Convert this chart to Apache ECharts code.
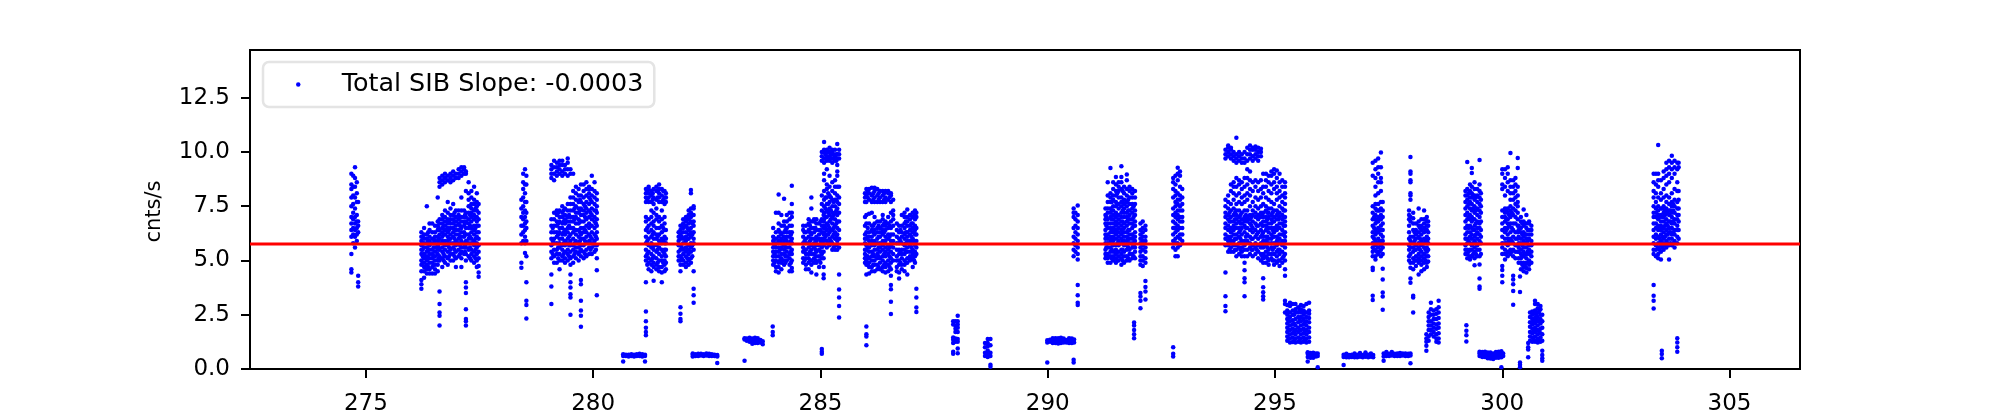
<!DOCTYPE html>
<html><head><meta charset="utf-8">
<style>html,body{margin:0;padding:0;background:#fff}#c{width:2000px;height:416px}</style>
<script src="https://cdn.jsdelivr.net/npm/echarts@6/dist/echarts.min.js"></script>
</head><body><div id="c"></div>
<script>
// Each column is [time, rate, rate, ...].
const groupA=[[274.68,9.0,8.5,8.3,7.9,7.5,7.0,6.7,6.4,6.1,5.3,4.6,4.45],[274.72,8.9,8.4,8.0,7.6,7.2,6.9,6.5,6.2,5.8],[274.76,9.3,8.8,8.4,7.9,7.4,7.0,6.7,6.4,6.1,5.6],[274.80,8.6,8.1,7.7,7.1,6.8,6.5,6.2,5.9],[274.83,7.7,6.8,6.6,6.3,4.3,4.0,3.8]];
const groupB=[[276.22,3.7,3.9,4.1,4.5,4.8,5.0,5.3,5.5,5.7,5.9,6.1,6.3],[276.28,4.2,4.5,4.7,4.9,5.1,5.3,5.6,5.8,6.0,6.2,6.5],[276.34,4.4,4.6,4.8,5.0,5.2,5.4,5.6,5.8,6.0,6.2,7.5],[276.40,4.4,4.6,4.9,5.1,5.3,5.5,5.7,5.9,6.1,6.4,6.7],[276.46,4.4,4.7,4.9,5.1,5.3,5.5,5.8,6.0,6.3,6.7],[276.52,4.4,4.6,4.8,5.0,5.2,5.4,5.6,5.9,6.1,6.3,6.6],[276.58,4.5,4.8,5.0,5.3,5.5,5.7,5.9,6.1,6.4,6.6,6.8,7.9],[276.62,2.0,2.45,2.6,3.0,3.57,5.0,5.2,5.5,5.8,6.0,6.2,6.4,6.7,6.9,8.4,8.6,8.8],[276.68,4.7,5.1,5.4,5.6,5.9,6.1,6.3,6.5,6.7,6.9,7.1,8.5,8.7,8.9],[276.74,4.9,5.2,5.5,5.7,5.9,6.2,6.4,6.6,6.8,7.0,7.3,8.6,8.8,9.0],[276.80,4.8,5.1,5.4,5.7,5.9,6.1,6.3,6.5,6.7,6.9,7.2,7.7,8.7,8.9],[276.86,5.0,5.3,5.5,5.8,6.0,6.2,6.5,6.7,6.9,7.1,7.4,8.6,8.8,9.0],[276.92,5.0,5.3,5.6,5.8,6.1,6.3,6.5,6.7,6.9,7.1,7.6,8.7,8.9,9.1],[276.98,4.7,5.1,5.4,5.7,5.9,6.2,6.4,6.6,6.8,7.0,7.3,8.8,9.0],[277.04,5.2,5.5,5.8,6.0,6.2,6.4,6.7,6.9,7.1,7.3,8.8,9.0,9.2],[277.10,4.7,5.1,5.4,5.6,5.9,6.1,6.3,6.5,6.8,7.0,7.3,7.9,8.9,9.1,9.3],[277.16,5.3,5.6,5.8,6.1,6.3,6.6,6.8,7.0,7.3,9.0,9.2,9.3],[277.20,2.0,2.2,2.3,2.75,3.5,3.75,4.0,5.0,5.3,5.6,5.9,6.2,6.5,6.8,7.0,7.2,8.2,9.0,9.1],[277.26,5.2,5.5,5.8,6.0,6.2,6.5,6.7,6.9,7.2,7.5,7.8,8.1,8.6],[277.32,5.0,5.3,5.5,5.8,6.0,6.3,6.5,6.8,7.0,7.2,7.4,7.6,7.9,8.2],[277.38,4.9,5.2,5.4,5.7,5.9,6.2,6.4,6.6,6.9,7.1,7.3,7.6,7.8,8.4],[277.44,4.7,5.0,5.3,5.6,5.8,6.1,6.3,6.6,6.8,7.0,7.3,7.5,7.7,8.1],[277.48,4.25,4.45,4.75,5.1,5.4,5.7,6.0,6.3,6.6,6.9,7.2,7.6]];
const groupC=[[278.42,4.67,4.9,5.8,6.2,6.6,7.0,7.4,7.8],[278.46,5.9,6.3,6.6,6.9,7.2,7.5,7.9,8.3,8.6,9.0],[278.50,5.35,5.8,6.1,6.4,6.7,7.0,7.3,7.7,8.1,8.5,9.2],[278.53,2.33,2.95,3.15,4.0,5.2,5.9,6.5,6.8,7.2,7.7,8.5,8.9]];
const groupD=[[279.08,3.0,3.8,4.35,5.1,5.4,5.7,6.0,6.3,6.6,6.9,8.8,9.0,9.2,9.4],[279.14,4.9,5.2,5.5,5.8,6.0,6.3,6.6,6.9,7.2,8.7,9.0,9.3,9.6],[279.20,4.9,5.3,5.5,5.8,6.1,6.3,6.6,6.8,7.1,7.3,8.9,9.1,9.3,9.5],[279.26,4.6,5.0,5.3,5.6,5.8,6.0,6.3,6.5,6.8,7.0,7.3,9.0,9.2,9.4,9.6],[279.32,5.0,5.2,5.5,5.7,6.0,6.2,6.5,6.7,7.0,7.2,7.5,8.9,9.1,9.4,9.6],[279.38,4.9,5.1,5.4,5.7,5.9,6.2,6.4,6.7,6.9,7.1,7.4,9.0,9.2,9.4],[279.44,5.0,5.3,5.5,5.8,6.0,6.3,6.5,6.8,7.0,7.3,7.6,8.9,9.2,9.5,9.7],[279.50,2.5,3.3,3.45,3.75,4.0,4.35,4.8,5.1,5.4,5.7,5.9,6.2,6.5,6.8,7.0,7.3,7.6,7.9,9.0,9.2],[279.56,4.9,5.2,5.5,5.7,6.0,6.3,6.5,6.8,7.0,7.3,7.6,7.9,8.2,9.0],[279.62,5.1,5.4,5.6,5.9,6.2,6.4,6.7,7.0,7.2,7.5,7.8,8.1,8.4],[279.68,5.0,5.3,5.6,5.8,6.1,6.4,6.7,6.9,7.2,7.4,7.7,8.0,8.3],[279.73,1.95,2.45,2.7,3.15,3.9,4.1,5.2,5.5,5.7,6.0,6.2,6.5,6.8,7.1,7.4,7.7,8.0,8.5],[279.79,5.1,5.4,5.7,6.0,6.3,6.5,6.8,7.1,7.3,7.6,7.9,8.2,8.5],[279.85,5.2,5.5,5.8,6.1,6.3,6.6,6.9,7.2,7.4,7.7,8.0,8.3,8.6],[279.91,5.3,5.6,5.9,6.2,6.5,6.7,7.0,7.3,7.6,7.9,8.1,8.4,8.3],[279.97,5.3,5.6,5.8,6.0,6.3,6.6,6.9,7.1,7.4,7.7,8.0,8.3,8.9],[280.03,5.4,5.7,5.9,6.2,6.5,6.8,7.0,7.3,7.6,7.9,8.2,8.6],[280.08,3.4,4.55,5.1,5.7,6.0,6.3,6.6,6.9,7.2,7.5,7.8,8.1]];
const groupE=[[280.66,0.35,0.6,0.68],[280.72,0.6,0.66],[280.78,0.58,0.66],[280.84,0.6,0.68],[280.90,0.58,0.66],[280.96,0.6,0.68],[281.02,0.6,0.7],[281.08,0.58,0.68],[281.14,0.35,0.6,0.66]];
const groupF=[[281.16,1.55,1.7,1.9,2.2,2.65,4.0,5.0,5.2,5.5,5.8,6.1,6.4,6.8,7.0,7.7,7.9,8.1,8.3],[281.22,4.6,4.9,5.1,5.4,5.7,6.0,6.3,6.6,6.9,7.7,7.9,8.1,8.3,8.4],[281.28,4.5,4.8,5.0,5.3,5.6,5.8,6.1,6.4,6.7,7.0,7.3,7.7,8.0,8.2],[281.33,4.07,4.7,4.9,5.2,5.5,5.7,6.0,6.3,6.6,6.8,7.2,7.6,7.9,8.3],[281.39,4.6,4.8,5.1,5.4,5.7,6.0,6.2,6.5,6.9,7.1,7.4,7.8,8.2,8.4],[281.45,4.5,4.7,5.0,5.3,5.6,5.9,6.2,6.5,6.8,7.0,7.7,7.9,8.1,8.3,8.5],[281.51,4.0,4.45,4.7,5.0,5.2,5.5,5.8,6.0,6.3,6.6,6.9,7.3,7.7,8.0,8.3],[281.57,4.5,4.8,5.0,5.3,5.5,5.8,6.1,6.4,6.7,7.0,7.6,7.9,8.2],[281.60,4.6,4.9,5.2,5.5,5.8,6.0,6.4,7.7,7.9,8.1]];
const groupG=[[281.88,5.0,5.2,5.4,5.7,5.9,6.1,6.3],[281.92,2.2,2.3,2.55,2.85,4.5,4.8,5.0,5.2,5.5,5.7,6.0,6.2,6.4,6.6],[281.98,4.8,5.0,5.3,5.5,5.8,6.0,6.3,6.5,6.7,6.9],[282.04,4.7,4.9,5.2,5.4,5.6,5.9,6.1,6.3,6.6,6.8,7.0],[282.10,4.8,5.0,5.3,5.5,5.7,6.0,6.2,6.4,6.7,6.9,7.1,7.3],[282.15,4.9,5.1,5.4,5.6,5.8,6.1,6.3,6.5,6.8,7.0,7.2,7.4,8.1,8.25],[282.21,3.05,3.4,3.7,4.5,5.5,5.8,6.0,6.3,6.6,6.8,7.1,7.4,7.5]];
const groupH=[[282.19,0.58,0.66,0.72],[282.25,0.6,0.68],[282.31,0.6,0.7],[282.37,0.62,0.7],[282.43,0.6,0.68],[282.49,0.62,0.72],[282.55,0.6,0.7],[282.61,0.6,0.68],[282.67,0.6,0.66],[282.73,0.28,0.58,0.64]];
const groupI=[[283.33,0.38,1.36,1.42],[283.38,1.3,1.4],[283.44,1.26,1.36,1.44],[283.50,1.16,1.3,1.4],[283.56,1.2,1.36,1.44],[283.62,1.2,1.32,1.42],[283.68,1.22,1.34],[283.73,1.14,1.28]];
const groupJ=[[283.95,1.55,1.7,1.96]];
const groupK=[[283.96,4.8,5.0,5.2,5.4,5.6,5.9,6.1,6.5],[284.02,4.5,4.7,5.0,5.2,5.4,5.6,5.8,6.0,6.3,7.2],[284.08,4.45,4.7,4.9,5.2,5.4,5.6,5.9,6.1,6.4,6.7,7.2,8.04],[284.14,4.6,4.9,5.1,5.3,5.6,5.8,6.0,6.2,6.6,7.1],[284.20,4.8,5.0,5.3,5.5,5.7,5.9,6.1,6.3,6.6,6.8,7.84],[284.26,5.0,5.2,5.4,5.6,5.9,6.1,6.3,6.5,6.8,7.1],[284.32,4.5,4.8,5.1,5.3,5.6,5.8,6.1,6.3,6.6,6.9,7.2],[284.37,4.5,4.65,5.0,5.3,5.5,5.8,6.0,6.3,6.6,7.0,7.2,7.6,8.45]];
const groupL=[[284.62,4.9,5.1,5.4,5.6,5.8,6.1,6.4,6.6],[284.68,4.6,4.8,5.1,5.3,5.5,5.8,6.0,6.3,6.6],[284.74,4.6,4.9,5.1,5.3,5.6,5.8,6.1,6.4,6.7,6.9],[284.80,4.45,4.8,5.0,5.3,5.5,5.7,6.0,6.2,6.5,6.8,7.4,7.9],[284.86,4.9,5.1,5.3,5.6,5.8,6.0,6.3,6.5,6.8,6.9],[284.91,4.36,4.9,5.2,5.4,5.7,5.9,6.1,6.4,6.7,6.9],[284.97,4.7,5.0,5.2,5.5,5.7,6.0,6.2,6.4,6.7],[285.03,0.7,0.8,0.92,5.1,5.3,5.6,5.8,6.0,6.3,6.6,6.9],[285.07,4.18,4.36,4.7,5.1,5.4,5.7,5.9,6.2,6.5,6.8,7.1]];
const groupM=[[285.03,7.3,7.6,8.0,9.6,9.8,10.0],[285.08,6.0,6.3,6.6,6.9,7.2,7.5,7.8,8.2,8.7,9.0,9.5,9.7,10.0,10.1,10.46],[285.14,5.6,5.9,6.2,6.4,6.7,7.0,7.3,7.6,7.9,8.3,8.5,9.2,9.6,9.8,10.0,10.1],[285.20,5.7,6.0,6.3,6.5,6.8,7.1,7.4,7.7,8.0,8.4,8.9,9.6,9.8,10.0,10.2],[285.26,5.5,5.8,6.1,6.4,6.7,7.0,7.2,7.5,7.8,8.2,8.6,9.5,9.7,10.0,10.1],[285.32,5.5,5.7,6.0,6.3,6.6,6.9,7.2,7.5,7.8,8.1,8.4,8.7,9.6,9.8,10.1],[285.37,5.5,5.9,6.2,6.5,6.8,7.1,7.4,7.7,8.0,8.4,8.9,9.1,9.4,9.7,9.9,10.37],[285.41,2.37,2.9,3.3,3.66,4.35,5.6,6.0,6.4,6.8,7.2,7.6,7.9,8.4,9.7,9.9,10.1]];
const groupN=[[285.98,4.9,5.1,5.3,5.5,5.8,6.0,6.2,6.6,7.0,7.7,7.9,8.1],[286.01,1.1,1.5,1.6,1.96,4.36,4.8,5.0,5.2,5.5,5.7,6.0,6.3,6.7,7.1,7.7,8.0,8.3],[286.07,4.4,4.7,4.9,5.1,5.4,5.6,5.9,6.1,6.3,6.7,7.15,7.8,8.1,8.3],[286.13,4.5,4.7,5.0,5.2,5.4,5.7,5.9,6.1,6.4,6.6,7.2,7.7,8.0,8.35],[286.19,4.5,4.8,5.0,5.2,5.5,5.7,5.9,6.2,6.4,6.7,7.0,7.7,7.9,8.2,8.35],[286.25,4.6,4.8,5.1,5.3,5.5,5.8,6.0,6.3,6.5,6.8,7.7,8.0,8.3],[286.31,4.6,4.9,5.1,5.4,5.6,5.8,6.1,6.3,6.5,6.8,7.7,7.9,8.2],[286.37,4.5,4.7,5.0,5.2,5.5,5.7,5.9,6.2,6.4,6.6,6.9,7.1,7.7,8.0,8.2],[286.43,4.45,4.7,4.9,5.2,5.4,5.6,5.9,6.1,6.4,6.6,6.8,7.7,7.9,8.2],[286.49,4.5,4.8,5.0,5.3,5.5,5.7,6.0,6.2,6.5,6.7,7.0,7.8,8.1,8.2],[286.55,2.54,3.1,3.67,3.87,4.3,4.6,4.9,5.1,5.4,5.7,5.9,6.2,6.5,6.8,7.2,7.7,8.0,8.1],[286.60,5.0,5.3,5.6,5.9,6.2,6.6,6.9,7.1,7.3,7.8]];
const groupO=[[286.68,4.5,4.7,5.0,5.2,5.5,5.8,6.1,6.4,6.7],[286.73,4.17,4.45,4.8,5.0,5.3,5.5,5.8,6.0,6.3,6.6],[286.79,4.6,4.8,5.1,5.3,5.5,5.8,6.1,6.3,6.6,7.1],[286.85,4.5,4.8,5.0,5.3,5.5,5.7,6.0,6.2,6.5,6.7,7.0,7.2],[286.91,4.36,4.9,5.1,5.4,5.6,5.9,6.1,6.3,6.6,6.8,7.0,7.35],[286.97,5.0,5.2,5.4,5.7,5.9,6.2,6.4,6.6,6.9,7.1],[287.03,4.7,5.1,5.3,5.5,5.8,6.0,6.3,6.5,6.7,7.0,7.2],[287.08,4.9,5.2,5.4,5.7,5.9,6.2,6.4,6.6,6.9,7.1,7.3],[287.11,2.63,2.83,3.3,3.7,5.3,5.6,5.9,6.2,6.5,7.0,7.2]];
const groupP=[[287.92,0.7,0.8,1.2,1.35,1.45,2.05,2.2],[287.97,1.25,1.4,1.7,1.85,2.0,2.2],[288.02,0.73,0.95,1.25,1.38,1.7,1.9,2.05,2.2,2.45]];
const groupQ=[[288.62,0.6,0.75,1.0,1.2],[288.68,0.55,0.72,0.85,1.05,1.2,1.38],[288.74,0.1,0.2,0.6,0.75,1.1,1.38]];
const groupR=[[289.99,0.3,1.22,1.32],[290.05,1.25,1.35],[290.11,1.2,1.34,1.42],[290.17,1.2,1.32,1.42],[290.23,1.18,1.3,1.42],[290.29,1.2,1.34,1.44],[290.35,1.22,1.36,1.4],[290.41,1.22,1.34],[290.47,1.2,1.34,1.42],[290.53,1.2,1.32,1.4],[290.58,1.22,1.36]];
const groupS=[[290.57,0.3,0.43,5.2,5.5,5.8,6.1,6.5,7.0,7.2,7.4],[290.61,5.4,5.7,6.0,6.3,6.6,6.9,7.2],[290.66,2.95,3.05,3.4,3.87,5.05,5.3,5.6,5.9,6.2,6.5,6.8,7.1,7.53]];
const groupT=[[291.27,5.1,5.3,5.5,5.8,6.0,6.2,6.4,6.7,6.9,7.1,7.4],[291.32,4.9,5.1,5.3,5.6,5.8,6.0,6.2,6.5,6.7,6.9,7.2,7.4,7.7,8.0,8.6],[291.38,4.9,5.2,5.4,5.6,5.9,6.1,6.3,6.5,6.7,7.0,7.2,7.4,7.7,7.9,8.1,9.26],[291.44,5.0,5.2,5.4,5.7,5.9,6.1,6.3,6.5,6.7,6.9,7.1,7.3,7.5,7.8,8.0,8.3,8.6],[291.50,4.9,5.1,5.3,5.5,5.7,6.0,6.2,6.4,6.6,6.8,7.0,7.2,7.5,7.7,8.0,8.2,8.5,8.85],[291.56,5.0,5.2,5.4,5.7,5.9,6.1,6.3,6.5,6.7,6.9,7.1,7.4,7.6,7.9,8.2,8.4,8.6],[291.62,4.8,5.1,5.3,5.5,5.8,6.0,6.2,6.4,6.6,6.8,7.0,7.2,7.5,7.7,7.9,8.3,8.6,8.85,9.34],[291.68,4.9,5.2,5.4,5.7,5.9,6.1,6.3,6.5,6.7,7.0,7.2,7.4,7.6,7.8,8.1,8.4],[291.74,5.0,5.2,5.5,5.7,5.9,6.1,6.3,6.6,6.8,7.0,7.2,7.5,7.7,8.0,8.3,8.7,8.96],[291.80,5.0,5.3,5.5,5.8,6.0,6.2,6.4,6.7,6.9,7.1,7.3,7.6,7.9,8.2,8.4],[291.86,5.1,5.3,5.6,5.8,6.0,6.2,6.5,6.7,6.9,7.2,7.4,7.6,7.9,8.1,8.3],[291.92,5.1,5.4,5.6,5.9,6.1,6.3,6.6,6.8,7.1,7.3,7.6,7.9,8.2],[291.90,1.42,1.6,1.8,2.0,2.14]];
const groupU=[[292.04,2.8,3.14,3.34,3.5,4.8,5.0,5.2,5.4,5.6,5.8,6.0,6.2,6.4,6.7],[292.09,4.75,5.0,5.2,5.5,5.7,5.9,6.1,6.3,6.5,6.8],[292.15,3.2,3.57,3.78,4.06,4.9,5.1,5.4,5.6,5.9,6.1,6.4,6.6]];
const groupV=[[292.76,0.58,0.7,1.0,5.6,5.9,6.2,6.5,6.8,7.1,7.4,7.9,8.3,8.6,8.8],[292.81,5.2,5.5,5.8,6.0,6.3,6.5,6.7,7.0,7.2,7.5,7.7,8.0,8.2,8.5,8.9],[292.86,5.2,5.6,5.8,6.1,6.4,6.6,6.9,7.1,7.3,7.6,7.8,8.1,8.7,9.0,9.27],[292.91,5.7,6.0,6.2,6.5,6.8,7.0,7.3,7.5,7.8,8.0,8.4,8.9,9.1],[292.96,5.9,6.2,6.5,6.8,7.0,7.3,7.6,7.9,8.3]];
const groupW=[[293.91,2.66,2.9,3.35,4.45,5.7,6.0,6.2,6.5,6.7,7.0,7.2,7.5,7.8,9.7,9.9,10.1],[293.97,5.4,5.7,5.9,6.1,6.4,6.6,6.9,7.1,7.4,7.7,8.0,9.8,10.0,10.2,10.3],[294.03,5.4,5.6,5.9,6.1,6.3,6.5,6.8,7.0,7.3,7.6,8.2,8.5,9.7,9.9,10.1,10.2],[294.09,5.4,5.7,5.9,6.2,6.4,6.6,6.8,7.1,7.4,7.8,8.1,8.4,8.6,9.6,9.8,10.0],[294.15,5.2,5.5,5.7,6.0,6.2,6.5,6.7,6.9,7.1,7.3,7.6,8.0,8.4,8.8,9.5,9.7,9.9,10.66],[294.21,5.3,5.6,5.8,6.1,6.3,6.5,6.8,7.0,7.3,7.7,8.1,8.5,8.7,9.6,9.8,10.0],[294.27,5.2,5.4,5.6,5.9,6.2,6.5,6.7,6.9,7.2,7.6,7.9,8.3,8.6,9.5,9.7,9.9],[294.33,3.35,4.0,4.18,4.55,4.9,5.2,5.5,5.7,5.9,6.3,6.6,6.8,7.0,7.3,7.7,8.0,8.4,8.8,9.5,9.7,10.0],[294.39,5.2,5.5,5.9,6.2,6.5,6.8,7.0,7.3,7.8,8.1,8.5,8.8,9.2,9.6,9.9,10.2],[294.45,5.3,5.6,5.8,6.1,6.4,6.7,6.9,7.1,7.5,8.0,8.3,8.7,9.1,9.7,9.9,10.1,10.3],[294.51,5.2,5.5,5.7,6.0,6.3,6.5,6.8,7.1,7.3,7.7,8.2,8.6,9.6,9.8,10.1,10.2],[294.57,5.3,5.6,5.8,6.1,6.4,6.7,7.0,7.2,7.5,7.9,8.4,8.7,9.7,9.9,10.1,10.25],[294.63,5.1,5.4,5.7,6.0,6.3,6.6,6.9,7.1,7.4,7.8,8.2,8.6,9.6,9.8,10.0,10.2],[294.69,5.0,5.3,5.6,5.8,6.1,6.4,6.7,7.0,7.2,7.5,7.9,8.3,8.7,9.8,10.0,10.15],[294.74,3.2,3.35,3.54,3.77,4.18,4.9,5.1,5.3,5.6,5.9,6.1,6.3,6.6,6.8,7.0,7.2,7.6,8.1,8.4,9.0],[294.80,4.9,5.2,5.4,5.7,5.9,6.1,6.4,6.6,6.8,7.0,7.3,7.5,7.9,8.4,8.7,9.0],[294.86,4.8,5.0,5.3,5.5,5.8,6.0,6.3,6.5,6.7,7.0,7.2,7.4,7.8,8.2,8.6,8.9],[294.92,5.1,5.3,5.6,5.8,6.0,6.2,6.5,6.7,6.9,7.1,7.4,7.7,8.1,8.5,8.9,9.1],[294.98,4.8,5.0,5.3,5.6,5.8,6.1,6.3,6.5,6.8,7.0,7.3,7.6,8.3,8.6,9.0,9.2],[295.04,4.9,5.2,5.4,5.7,5.9,6.1,6.4,6.6,6.9,7.1,7.3,7.8,8.1,8.4,8.8,9.15],[295.10,4.75,5.0,5.3,5.5,5.8,6.0,6.2,6.5,6.7,7.0,7.2,7.5,7.9,8.2,8.6,9.0],[295.16,4.9,5.1,5.4,5.7,5.9,6.2,6.4,6.7,6.9,7.1,7.4,7.7,8.0,8.4,8.7],[295.22,4.3,4.6,5.0,5.3,5.6,5.9,6.1,6.3,6.6,6.8,7.0,7.3,7.6,7.9,8.1,8.4,8.6]];
const groupX=[[295.22,3.14,3.0,2.6],[295.27,1.3,1.5,1.7,1.9,2.1,2.3,2.5,2.7,2.95],[295.33,1.22,1.4,1.6,1.8,2.0,2.2,2.4,2.6,2.9,3.05],[295.39,1.24,1.45,1.65,1.85,2.05,2.25,2.5,2.7,3.0],[295.45,1.22,1.4,1.6,1.8,2.0,2.3,2.6,2.75,3.0],[295.51,1.25,1.45,1.7,1.9,2.15,2.4,2.6,2.85],[295.57,1.22,1.4,1.6,1.8,2.0,2.2,2.4,2.6,2.75,2.95],[295.63,1.25,1.45,1.65,1.85,2.05,2.3,2.5,2.7,2.9],[295.69,1.22,1.4,1.6,1.8,2.0,2.2,2.4,2.6,3.0],[295.75,1.25,1.45,1.7,1.9,2.15,2.35,2.55,2.7,3.05]];
const groupY=[[295.72,0.34,0.55,0.7,0.77],[295.78,0.52,0.62,0.74],[295.84,0.52,0.62,0.75],[295.9,0.58,0.72],[295.94,0.08,0.6,0.72]];
const groupZ=[[296.51,0.18,0.55,0.66],[296.57,0.54,0.64,0.7],[296.63,0.54,0.64],[296.69,0.55,0.66],[296.75,0.54,0.64,0.72],[296.81,0.54,0.66],[296.87,0.56,0.66,0.74],[296.93,0.54,0.64],[296.99,0.56,0.68,0.76],[297.05,0.54,0.66],[297.11,0.56,0.66,0.72],[297.16,0.54,0.64]];
const groupAA=[[297.15,3.18,3.37,4.56,4.67,5.2,5.4,5.6,5.8,6.1,6.3,6.6,6.9,7.2,7.5,8.9,9.5],[297.21,5.05,5.2,5.5,5.7,5.9,6.2,6.4,6.7,6.9,7.1,7.4,7.6,8.0,8.4,8.8,9.2,9.6],[297.27,5.3,5.6,5.8,6.0,6.3,6.5,6.8,7.0,7.3,7.6,8.1,8.6,9.0,9.3,9.7],[297.33,5.2,5.5,5.7,5.9,6.2,6.4,6.6,6.9,7.1,7.4,7.7,8.2,8.6,8.8,9.3,9.98],[297.37,2.73,3.34,3.52,4.13,4.62,5.3,5.6,5.9,6.1,6.4,6.7,7.0,7.3,7.7]];
const groupAB=[[297.39,0.38,0.58,0.72],[297.45,0.6,0.72,0.78],[297.51,0.6,0.7],[297.57,0.62,0.72,0.78],[297.63,0.6,0.7],[297.69,0.6,0.72],[297.75,0.6,0.74],[297.81,0.62,0.72],[297.87,0.6,0.72],[297.93,0.6,0.7],[297.98,0.26,0.62,0.72]];
const groupAC=[[297.95,5.0,5.2,5.5,5.7,6.0,6.3,6.6,6.9,7.1,7.3],[297.98,3.98,4.17,4.67,4.9,5.3,5.6,5.9,6.1,6.8,7.0,7.8,8.0,8.1,8.6,8.7,9.0,9.1,9.77],[298.04,2.6,3.3,3.37,4.6,4.9,5.1,5.4,5.6,5.8,6.1,6.4,6.7,6.95,7.2],[298.10,4.75,5.0,5.2,5.5,5.7,6.0,6.2,6.4,6.7],[298.16,4.36,4.9,5.1,5.3,5.6,5.8,6.1,6.3,6.6,6.8,7.4],[298.22,4.5,4.8,5.0,5.2,5.4,5.7,5.9,6.2,6.4,6.6,6.9],[298.28,4.6,4.9,5.1,5.3,5.6,5.8,6.0,6.3,6.5,6.7,6.9,7.3],[298.34,4.7,4.9,5.2,5.4,5.6,5.9,6.1,6.4,6.6,6.8,7.0],[298.37,4.95,5.2,5.5,5.8,6.0,6.3,6.6,6.8]];
const groupAD=[[298.33,0.84,1.07,1.25,1.4,1.6],[298.38,1.3,1.5,1.8,2.0,2.2,2.4,2.6],[298.43,1.6,1.8,2.0,2.2,2.5,2.75,3.05],[298.49,1.5,1.7,1.9,2.1,2.3,2.5,2.7],[298.55,1.25,1.4,1.6,1.85,2.05,2.3,2.55,2.75],[298.6,1.22,1.4,1.65,1.9,2.1,2.35,2.6,2.85,3.14]];
const groupAE=[[299.19,5.3,5.5,5.7,6.0,6.2,6.5,6.8,7.1,7.4,7.7,8.0,8.2],[299.23,5.1,5.3,5.5,5.8,6.0,6.3,6.6,6.9,7.2,7.5,7.8,8.0,8.3,9.54],[299.21,1.27,1.56,1.76,2.02],[299.29,5.05,5.2,5.5,5.8,6.1,6.3,6.6,6.9,7.1,7.4,7.7,7.9,8.2,8.5],[299.33,5.2,5.5,5.7,6.0,6.2,6.5,6.8,7.0,7.3,7.6,7.9,8.1,8.4,9.03,9.26],[299.39,4.78,5.1,5.4,5.6,5.9,6.1,6.4,6.6,6.9,7.2,7.5,7.8,8.0,8.3,8.6],[299.45,5.2,5.5,5.7,6.0,6.3,6.5,6.8,7.1,7.4,7.7,8.0,8.3],[299.50,3.7,3.8,4.17,4.82,5.2,5.5,5.9,6.2,6.5,6.7,7.0,7.3,7.6,7.9,8.2,8.5,9.63],[299.53,5.3,5.8,6.1,6.4,6.8,7.2,7.5,7.8,8.1]];
const groupAF=[[299.5,0.6,0.72,0.8],[299.56,0.55,0.68,0.78],[299.62,0.55,0.66,0.8],[299.68,0.5,0.62,0.76],[299.74,0.48,0.62,0.76],[299.8,0.46,0.6,0.72],[299.86,0.52,0.64,0.78],[299.92,0.52,0.66,0.8],[299.98,0.08,0.54,0.68,0.82],[300.02,0.6,0.72]];
const groupAG=[[300.0,4.0,4.3,4.56,4.75,5.3,5.6,5.8,6.1,6.4,6.7,7.0,7.3,8.3,8.5,9.0,9.2],[300.06,5.05,5.3,5.5,5.8,6.0,6.3,6.5,6.8,7.0,7.2,7.4,8.0,8.4,8.8,9.2],[300.12,5.2,5.4,5.7,6.0,6.2,6.5,6.7,6.9,7.2,7.4,8.2,8.6,9.0,9.3],[300.18,5.3,5.5,5.8,6.0,6.3,6.7,7.0,7.3,7.5,7.8,8.1,8.4,8.7,9.95],[300.24,2.96,3.6,3.9,4.13,4.3,5.2,5.5,5.8,6.1,6.4,6.7,7.1,7.4,7.8,8.1,8.4,8.7],[300.29,5.1,5.4,5.7,6.0,6.3,6.7,7.0,7.3,7.6,7.9,8.2,8.5,8.8],[300.34,5.4,5.7,6.0,6.3,6.6,6.9,7.2,7.5,7.7,8.0,8.4,9.26,9.72],[300.39,0.08,0.2,0.3,3.55,4.26]];
const groupAH=[[300.36,4.9,5.1,5.4,5.6,5.8,6.1,6.4,6.6],[300.41,4.6,4.9,5.1,5.3,5.5,5.8,6.0,6.3,6.5,6.8,7.0],[300.47,4.5,4.7,4.9,5.2,5.4,5.6,5.9,6.1,6.3,6.6,6.8,7.35],[300.53,4.45,4.65,4.9,5.1,5.3,5.6,5.8,6.0,6.2,6.5,6.7,7.1],[300.59,4.6,4.8,5.0,5.3,5.5,5.7,6.0,6.2,6.4,6.7,6.8],[300.64,4.9,5.2,5.4,5.7,5.9,6.2,6.4,6.6]];
const groupAI=[[300.57,0.54,0.9,1.0,1.2],[300.61,1.3,1.5,1.7,1.95,2.15,2.4,2.6],[300.66,1.25,1.45,1.65,1.85,2.05,2.3,2.5,2.65],[300.72,1.25,1.5,1.7,1.9,2.1,2.35,2.55,2.7,3.0,3.14],[300.78,1.22,1.4,1.6,1.8,2.0,2.2,2.4,2.6,2.8,3.0],[300.84,1.25,1.45,1.65,1.85,2.1,2.3,2.5,2.75,2.9],[300.88,0.38,0.5,0.65,0.84,1.3,1.6,1.9,2.2,2.5]];
const groupAJ=[[303.33,2.79,3.14,3.37,3.87,5.3,5.5,5.8,6.1,6.4,6.7,7.0,7.2,7.5,7.9,8.2,8.6,9.0],[303.38,5.2,5.5,5.7,6.0,6.2,6.5,6.7,7.0,7.2,7.4,7.7,8.1,8.5,9.0],[303.43,5.1,5.3,5.6,5.8,6.1,6.4,6.6,6.9,7.1,7.3,7.5,7.9,8.4,8.7,9.0,10.32],[303.49,5.05,5.4,5.7,5.9,6.2,6.4,6.6,6.8,7.1,7.4,7.8,8.1,8.7],[303.51,0.5,0.69,0.84],[303.55,5.5,5.8,6.0,6.3,6.5,6.8,7.0,7.2,7.5,7.9,8.3,8.8,9.1],[303.61,5.6,5.9,6.2,6.4,6.7,6.9,7.2,7.4,7.7,8.0,8.5,8.9,9.2,9.5],[303.67,5.05,5.7,6.0,6.3,6.5,6.8,7.1,7.3,7.6,7.9,8.6,9.0,9.3,9.6],[303.73,5.7,6.0,6.2,6.5,6.7,7.0,7.2,7.5,7.7,8.1,8.8,9.2,9.5,9.83],[303.79,5.6,5.9,6.2,6.4,6.7,6.9,7.2,7.5,7.8,8.3,9.0,9.3,9.6],[303.85,0.8,1.0,1.22,1.42,5.8,6.1,6.4,6.6,6.9,7.1,7.4,7.7,8.2,8.6,9.2,9.5],[303.88,6.0,6.4,6.8,7.1,7.4,7.8,8.2,9.3,9.5]];
// Points between the columns above, where the picture is solid blue.
const coreB=[[276.25,4.9,5.2,5.5,5.8,6.1],[276.37,4.7,5.1,5.5,5.9,6.3],[276.49,4.8,5.2,5.6,6.0],[276.6,5.1,5.6,6.0,6.5],[276.71,5.0,5.3,5.8,6.2,6.6,7.0],[276.83,5.2,5.6,6.0,6.4,6.8],[276.95,5.2,5.5,6.0,6.4,6.8,7.2],[277.07,5.3,5.7,6.1,6.6,7.0],[277.18,5.4,5.7,6.2,6.7,7.1],[277.29,5.1,5.6,6.1,6.6,7.1,7.5],[277.41,5.1,5.5,6.0,6.5,7.0,7.4]];
const coreD=[[279.11,5.3,5.9,6.5],[279.23,5.1,5.6,6.2,6.7,7.2],[279.35,5.3,5.8,6.3,6.8,7.3],[279.47,5.2,5.7,6.1,6.6,7.1],[279.59,5.3,5.8,6.4,6.9,7.4],[279.71,5.4,5.9,6.3,6.8,7.3,7.8],[279.82,5.3,5.9,6.4,7.0,7.5],[279.94,5.5,6.1,6.6,7.2,7.8],[280.06,5.5,6.1,6.7,7.3]];
const coreF=[[281.19,4.8,5.3,5.9,6.5,7.8,8.2],[281.31,5.1,5.6,6.2,7.8,8.1],[281.42,4.9,5.5,6.1,7.9,8.2],[281.54,4.9,5.4,5.9,6.5,7.8,8.2]];
const coreG=[[281.95,5.1,5.6,6.1,6.6],[282.07,5.1,5.5,6.0,6.5,6.9],[282.18,5.2,5.7,6.2,6.7,7.1]];
const coreK=[[283.99,4.9,5.3,5.7,6.0],[284.11,5.0,5.5,5.9,6.3],[284.23,4.9,5.2,5.6,6.0,6.4],[284.35,4.9,5.4,5.9,6.2]];
const coreL=[[284.65,5.0,5.5,5.9,6.3],[284.77,5.0,5.4,5.9,6.3,6.6],[284.89,5.0,5.5,6.0,6.5],[285.0,4.9,5.4,5.9,6.4,6.8]];
const coreM=[[285.11,6.1,6.5,7.0,7.4,7.9,9.7,9.9],[285.17,5.8,6.2,6.6,7.2,7.6,8.1,9.7,10.0],[285.23,5.9,6.4,6.9,7.3,7.9,9.7,9.9],[285.29,5.6,6.2,6.5,7.1,7.7,9.7,9.9],[285.35,5.7,6.1,6.7,7.3,7.8,9.6,9.9]];
const coreN=[[286.04,4.8,5.2,5.6,6.1,6.5,7.9,8.2],[286.16,4.8,5.3,5.8,6.3,6.6,7.8,8.1],[286.28,4.7,5.2,5.6,6.1,6.6,7.8,8.1],[286.4,4.8,5.3,5.8,6.3,6.7,7.8,8.1],[286.52,4.7,5.2,5.6,6.1,6.6,7.9,8.1]];
const coreO=[[286.76,4.9,5.4,5.9,6.4],[286.88,4.9,5.4,5.8,6.3,6.8],[287.0,5.1,5.6,6.1,6.7],[287.06,5.0,5.4,5.9,6.3]];
const coreT=[[291.29,5.2,5.6,6.1,6.6,7.0],[291.41,5.1,5.5,6.0,6.4,6.9,7.3,7.7],[291.53,5.0,5.4,5.8,6.3,6.7,7.1,7.6,8.1],[291.65,5.0,5.5,5.9,6.3,6.8,7.3,7.7,8.2],[291.77,5.1,5.6,6.0,6.4,6.9,7.3,7.8],[291.89,5.2,5.7,6.1,6.6,7.0,7.5]];
const coreW=[[294.0,5.5,6.0,6.4,6.8,7.2],[294.12,5.5,6.0,6.5,6.9,7.2],[294.24,5.5,6.0,6.4,6.7,7.1],[294.36,6.1,6.5,6.9,7.1],[294.48,5.5,6.0,6.6,7.0],[294.6,5.5,6.2,6.6,7.0],[294.72,5.2,5.7,6.2,6.6,7.1],[294.83,5.1,5.6,6.1,6.5,6.9,7.2],[294.95,5.0,5.5,6.1,6.4,6.8,7.2],[295.07,5.0,5.5,6.0,6.5,6.9,7.2],[295.19,5.2,5.8,6.2,6.6,7.0,7.3]];
const coreX=[[295.3,1.4,1.8,2.2,2.6],[295.42,1.3,1.7,2.1,2.5],[295.54,1.3,1.8,2.3,2.7],[295.66,1.35,1.75,2.15,2.6]];
const coreAA=[[297.18,5.5,6.0,6.5,7.0],[297.24,5.4,5.8,6.3,6.8,7.3],[297.3,5.4,5.9,6.4,6.9,7.3]];
const coreAC=[[298.07,5.0,5.5,5.9,6.3],[298.19,5.0,5.5,6.0,6.5],[298.31,5.0,5.5,5.9,6.4,6.9]];
const coreAE=[[299.26,5.4,5.9,6.5,7.0,7.6,8.1],[299.36,5.3,5.8,6.4,6.9,7.4,8.0],[299.42,5.3,5.8,6.2,6.7,7.3,7.9]];
const coreAG=[[300.09,5.3,5.8,6.4,6.9,7.3],[300.15,5.4,5.9,6.6,7.1],[300.21,5.4,5.9,6.5,7.2]];
const coreAH=[[300.44,4.8,5.2,5.7,6.2,6.7],[300.5,4.8,5.3,5.8,6.2,6.7],[300.56,4.9,5.4,5.9,6.4]];
const coreAI=[[300.69,1.35,1.75,2.2,2.6],[300.75,1.3,1.8,2.25,2.5],[300.81,1.35,1.75,2.2,2.65]];
const coreAJ=[[303.46,5.5,6.0,6.5,7.0],[303.52,5.6,6.1,6.5,7.0,7.4],[303.58,5.7,6.1,6.6,7.1,7.3],[303.64,5.8,6.2,6.6,7.2],[303.7,5.8,6.3,6.8,7.3],[303.76,5.8,6.3,6.8,7.3,7.6]];
const xTicks=[275,280,285,290,295,300,305];
const yTicks=[0,2.5,5,7.5,10,12.5];
const xRange=[272.45,306.55];
const yRange=[0,14.7];
const meanRate=5.76;
const legendLabel='Total SIB Slope: -0.0003';
const yTitle='cnts/s';

const groups=[groupA,groupB,groupC,groupD,groupE,groupF,groupG,groupH,groupI,groupJ,groupK,groupL,groupM,groupN,groupO,groupP,groupQ,groupR,groupS,groupT,groupU,groupV,groupW,groupX,groupY,groupZ,groupAA,groupAB,groupAC,groupAD,groupAE,groupAF,groupAG,groupAH,groupAI,groupAJ,coreB,coreD,coreF,coreG,coreK,coreL,coreM,coreN,coreO,coreT,coreW,coreX,coreAA,coreAC,coreAE,coreAG,coreAH,coreAI,coreAJ];
const points=[];
groups.forEach(g=>g.forEach(col=>col.slice(1).forEach(y=>points.push([col[0],y]))));

const chart=echarts.init(document.getElementById('c'),null,{renderer:'canvas'});
const font='"DejaVu Sans"';
chart.setOption({
  animation:false,
  backgroundColor:'#fff',
  textStyle:{fontFamily:font},
  grid:{left:250,right:200,top:50,bottom:46,show:true,borderColor:'#000',borderWidth:2,backgroundColor:'#fff'},
  legend:{show:true,left:263,top:62,orient:'horizontal',data:[{name:legendLabel,icon:'circle'}],
    itemWidth:77,itemHeight:4.5,itemGap:0,padding:[10,11,10,33],borderColor:'#e4e4e4',borderWidth:2.5,borderRadius:6,backgroundColor:'#fff',
    textStyle:{fontFamily:font,fontSize:25.4,color:'#000'}},
  xAxis:{type:'value',min:xRange[0],max:xRange[1],splitLine:{show:false},
    axisLine:{show:true,onZero:false,lineStyle:{color:'#000',width:2}},
    axisTick:{show:true,length:9,lineStyle:{color:'#000',width:2},customValues:xTicks},
    axisLabel:{show:true,fontFamily:font,fontSize:23,color:'#000',margin:24,customValues:xTicks,formatter:v=>String(v)}},
  yAxis:{type:'value',min:yRange[0],max:yRange[1],splitLine:{show:false},
    name:yTitle,nameLocation:'middle',nameGap:85,nameRotate:90,nameTextStyle:{fontFamily:font,fontSize:21,color:'#000',verticalAlign:'bottom',padding:[0,4,0,0]},
    axisLine:{show:true,onZero:false,lineStyle:{color:'#000',width:2}},
    axisTick:{show:true,length:9,lineStyle:{color:'#000',width:2},customValues:yTicks},
    axisLabel:{show:true,fontFamily:font,fontSize:23,color:'#000',margin:20,padding:[5,0,0,0],customValues:yTicks,formatter:v=>v.toFixed(1)}},
  series:[
    {name:legendLabel,type:'scatter',data:points,symbol:'circle',symbolSize:4.5,itemStyle:{color:'#0000ff',opacity:1},large:false,z:2},
    {name:'mean',type:'line',data:[[xRange[0],meanRate],[xRange[1],meanRate]],symbol:'none',lineStyle:{color:'#ff0000',width:3},z:3}
  ]
});
</script></body></html>
